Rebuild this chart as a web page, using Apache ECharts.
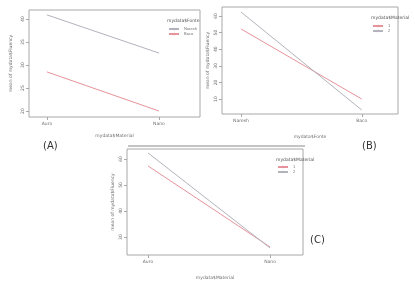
<!DOCTYPE html>
<html><head><meta charset="utf-8">
<script src="https://cdn.jsdelivr.net/npm/echarts@6/dist/echarts.min.js"></script>
<style>html,body{margin:0;padding:0;background:#fff}#c{width:415px;height:285px}</style>
</head><body><div id="c"></div>
<script>
// Panel A: x = Material, lines = Fonte
const catsA = ['Auro', 'Nano'];
const seriesNamesA = ['Naresh', 'Baco'];
const grayA = [40.9, 32.6];
const redA = [28.5, 20.0];
const ticksA = [20, 25, 30, 35, 40];
// Panel B: x = Fonte, lines = Material
const catsB = ['Naresh', 'Baco'];
const seriesNamesB = ['1', '2'];
const redB = [52.2, 10.0];
const grayB = [62.4, 3.4];
const ticksB = [10, 20, 30, 40, 50, 60];
// Panel C: x = Material, lines = Fonte
const catsC = ['Auro', 'Nano'];
const seriesNamesC = ['1', '2'];
const redC = [57.3, 26.2];
const grayC = [62.3, 25.8];
const ticksC = [30, 40, 50, 60];

const GRAY = '#b3b3bc', RED = '#e6939b', FRAME = '#a8a8a8', TXT = '#707070';
const FS = 4.5;

function pts(arr) { return arr.map((v, i) => [i, v]); }

function xAx(idx, cats, min, max, name, gap) {
  return {
    type: 'value', gridIndex: idx, min: min, max: max, name: name,
    nameLocation: 'middle', nameGap: gap,
    nameTextStyle: { fontSize: FS, color: TXT, fontFamily: 'DejaVu Sans' },
    axisLine: { show: false, onZero: false },
    splitLine: { show: false },
    axisTick: { show: true, length: 3, customValues: [0, 1], lineStyle: { color: FRAME } },
    axisLabel: { customValues: [0, 1], fontSize: FS, color: TXT, margin: 4, fontFamily: 'DejaVu Sans',
      formatter: v => cats[Math.round(v)] }
  };
}
function yAx(idx, ticks, min, max, name, gap) {
  return {
    type: 'value', gridIndex: idx, min: min, max: max, name: name,
    nameLocation: 'middle', nameGap: gap, nameRotate: 90,
    nameTextStyle: { fontSize: FS, color: TXT, fontFamily: 'DejaVu Sans' },
    axisLine: { show: false, onZero: false },
    splitLine: { show: false },
    axisTick: { show: true, length: 3, customValues: ticks, lineStyle: { color: FRAME } },
    axisLabel: { customValues: ticks, rotate: 90, fontSize: FS, color: TXT, margin: 4, fontFamily: 'DejaVu Sans' }
  };
}
function ser(name, idx, arr, color) {
  return { type: 'line', name: name, xAxisIndex: idx, yAxisIndex: idx, data: pts(arr),
    symbol: 'none', lineStyle: { color: color, width: 1 }, itemStyle: { color: color }, silent: true };
}
function leg(left, top, names) {
  return { orient: 'vertical', left: left, top: top, data: names, itemWidth: 10, itemHeight: 3,
    itemGap: 1, padding: 0, textStyle: { fontSize: 4, color: TXT, padding: [0, 0, 0, 0] }, selectedMode: false };
}
function ttl(text, left, top) {
  return { text: text, left: left, top: top, padding: 0,
    textStyle: { fontSize: 4.5, fontWeight: 'normal', color: '#555', fontFamily: 'DejaVu Sans' } };
}

const chart = echarts.init(document.getElementById('c'), null, { renderer: 'canvas' });
chart.setOption({
  animation: false,
  backgroundColor: '#fff',
  title: [ttl('mydata$Fonte', 167, 18), ttl('mydata$Material', 371, 15), ttl('mydata$Material', 276, 157)],
  legend: [leg(168, 27, seriesNamesA), leg(372, 24, seriesNamesB), leg(277, 165, seriesNamesC)],
  grid: [
    { left: 29, top: 10, width: 171, height: 107, show: true, borderColor: FRAME, borderWidth: 1 },
    { left: 222, top: 7, width: 176, height: 107, show: true, borderColor: FRAME, borderWidth: 1 },
    { left: 127, top: 149, width: 176, height: 106, show: true, borderColor: FRAME, borderWidth: 1 }
  ],
  xAxis: [
    xAx(0, catsA, -0.16, 1.366, 'mydata$Material', 16),
    xAx(1, catsB, -0.157, 1.30, 'mydata$Fonte', 20),
    xAx(2, catsC, -0.172, 1.27, 'mydata$Material', 20)
  ],
  yAxis: [
    yAx(0, ticksA, 18.7, 41.96, 'mean of mydata$Fluency', 16),
    yAx(1, ticksB, 1.0, 65.4, 'mean of mydata$Fluency', 12),
    yAx(2, ticksC, 23.1, 63.8, 'mean of mydata$Fluency', 12)
  ],
  series: [
    ser(seriesNamesA[0], 0, grayA, GRAY),
    ser(seriesNamesA[1], 0, redA, RED),
    ser(seriesNamesB[0], 1, redB, RED),
    ser(seriesNamesB[1], 1, grayB, GRAY),
    ser(seriesNamesC[0], 2, redC, RED),
    ser(seriesNamesC[1], 2, grayC, GRAY)
  ],
  graphic: [
    { type: 'line', shape: { x1: 128, y1: 146, x2: 305, y2: 146 }, style: { stroke: '#8a8a8a', lineWidth: 1 } },
    { type: 'text', left: 43, top: 141, style: { text: '(A)', fontSize: 10, fill: '#333', fontFamily: 'DejaVu Sans' } },
    { type: 'text', left: 362, top: 141, style: { text: '(B)', fontSize: 10, fill: '#333', fontFamily: 'DejaVu Sans' } },
    { type: 'text', left: 310, top: 235, style: { text: '(C)', fontSize: 10, fill: '#333', fontFamily: 'DejaVu Sans' } }
  ]
});
</script></body></html>
